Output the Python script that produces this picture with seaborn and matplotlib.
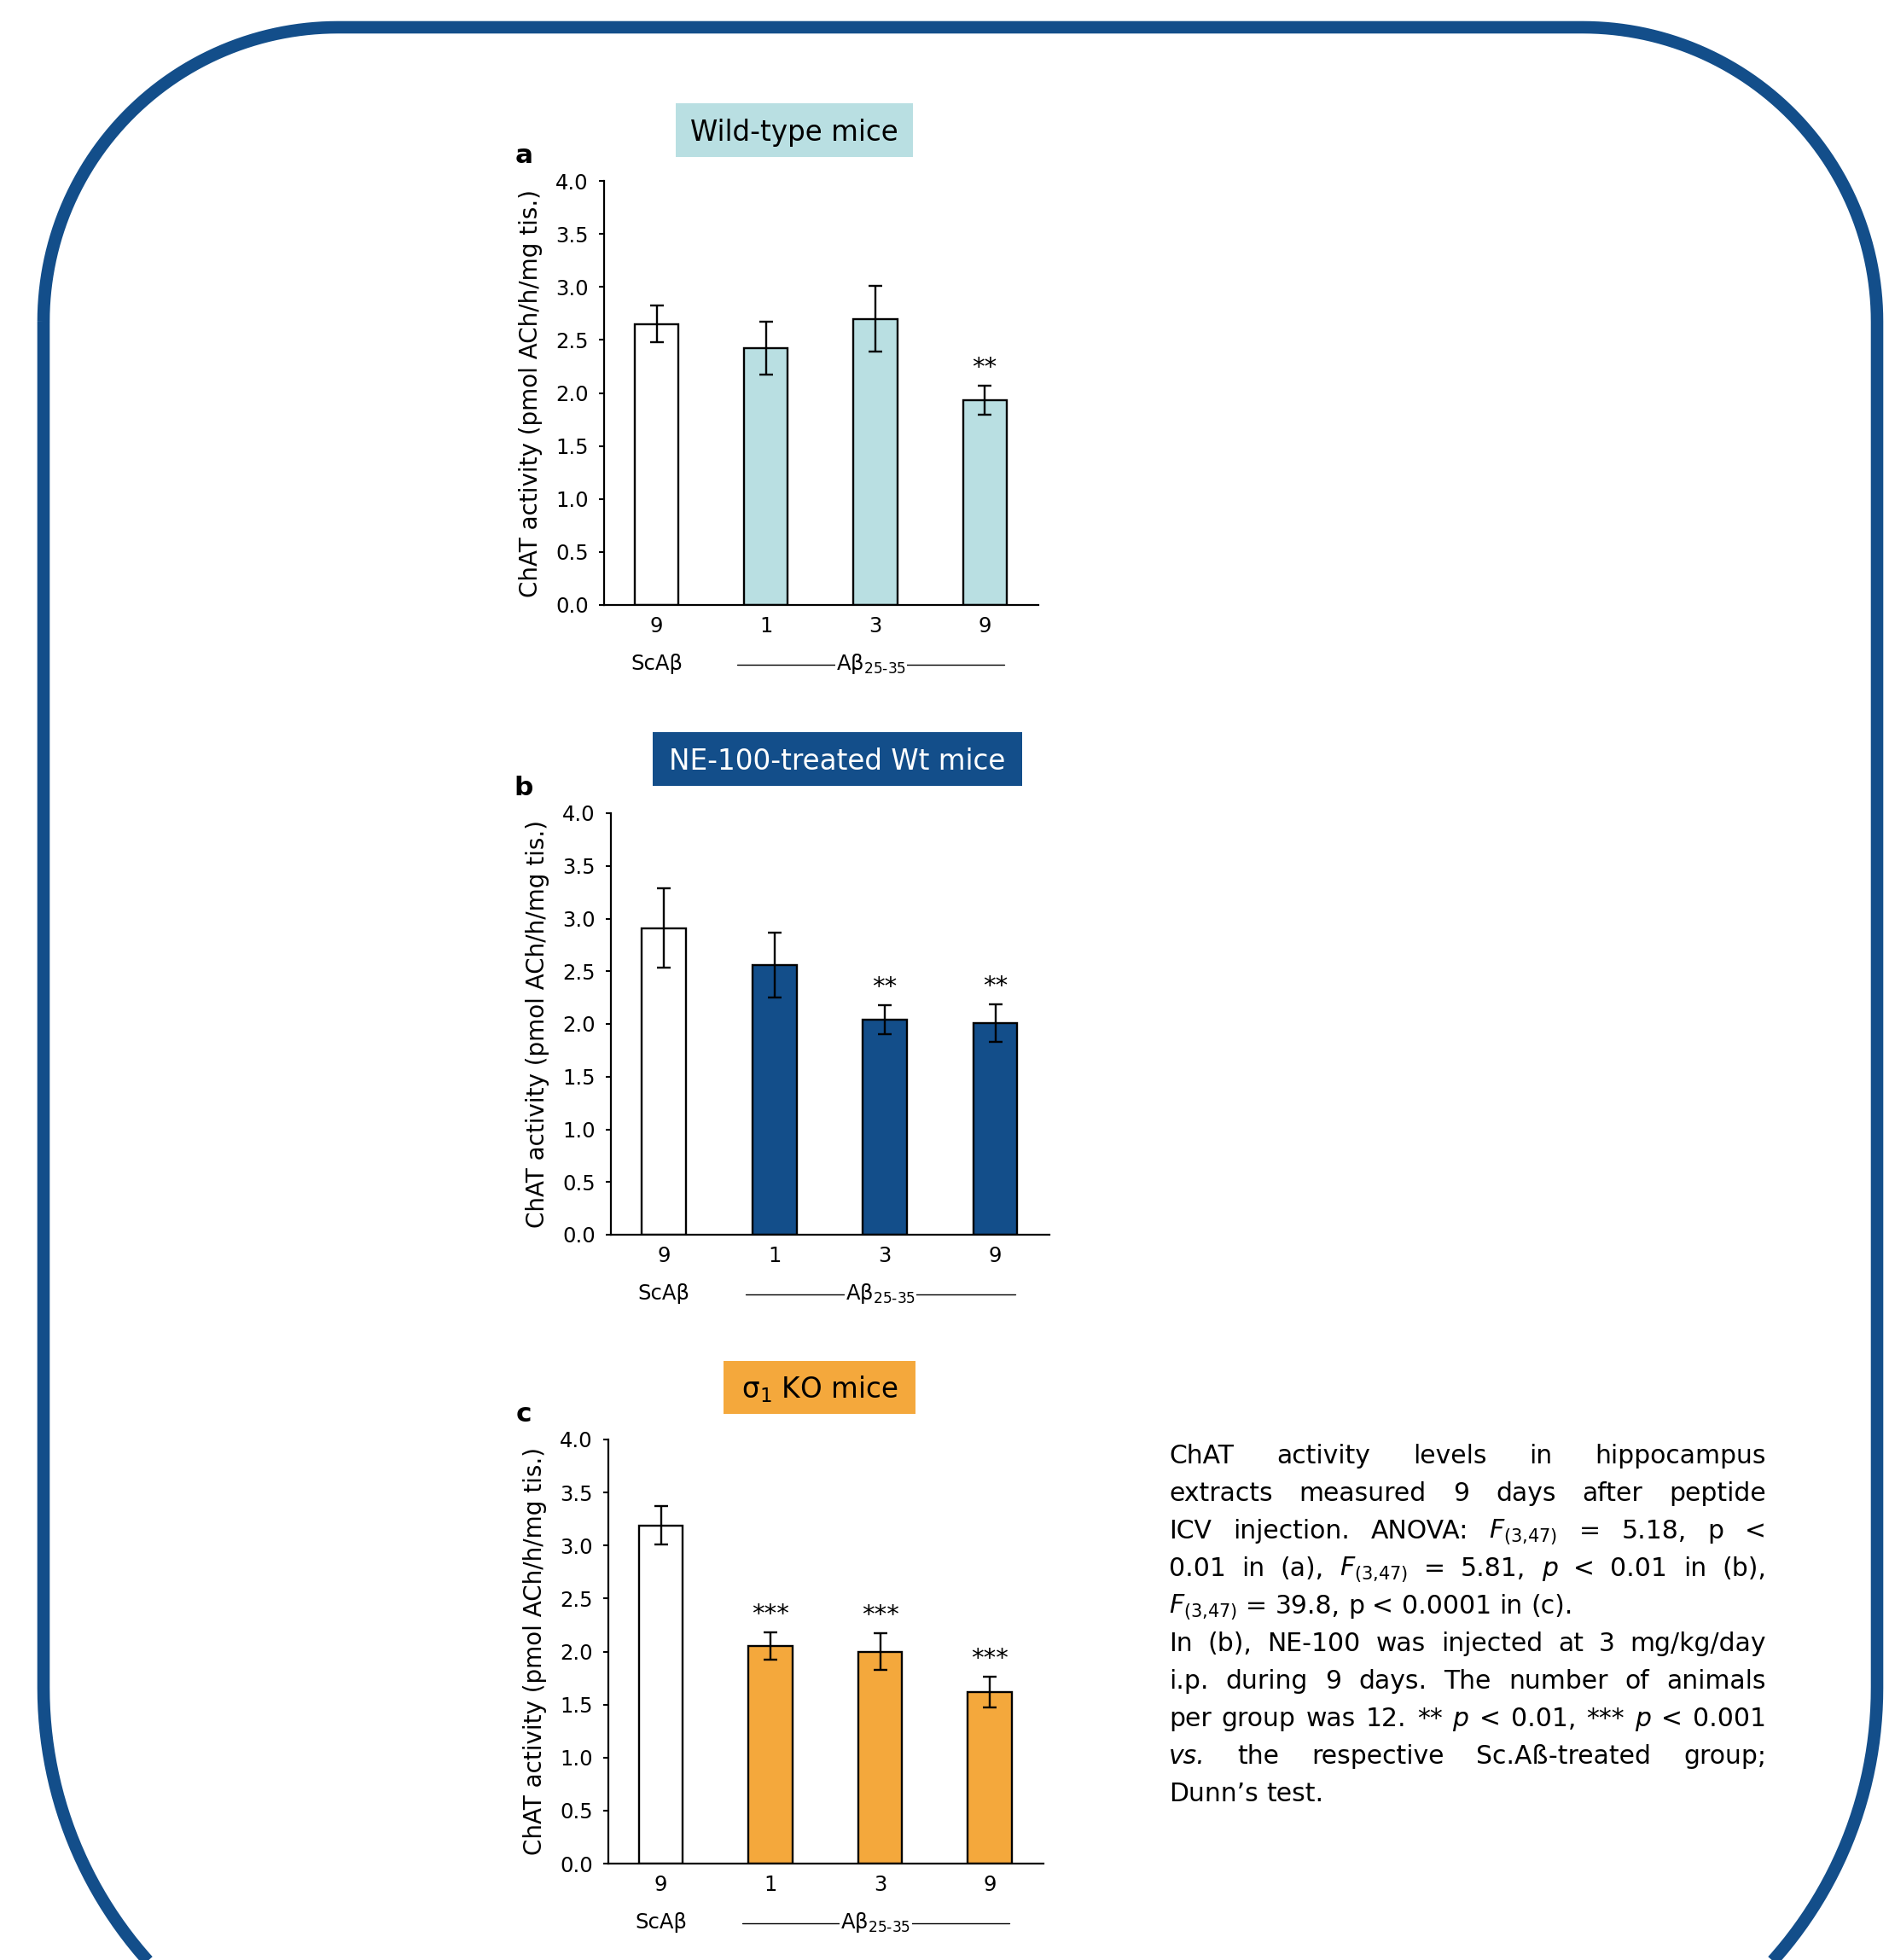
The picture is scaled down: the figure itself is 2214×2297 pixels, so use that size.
import numpy as np
import pandas as pd
import seaborn as sns
import matplotlib
matplotlib.use("Agg")
import matplotlib.pyplot as plt
from matplotlib.patches import Polygon, Rectangle

# --- data ---------------------------------------------------------------
days = ["9", "1", "3", "9"]
groups = ["ScAb 9", "Ab 1", "Ab 3", "Ab 9"]

wt_mean = [2.65, 2.42, 2.70, 1.93]
wt_sem = [0.175, 0.25, 0.31, 0.135]
wt_sig = ["", "", "", "**"]

ne_mean = [2.91, 2.56, 2.04, 2.01]
ne_sem = [0.375, 0.305, 0.135, 0.18]
ne_sig = ["", "", "**", "**"]

ko_mean = [3.19, 2.05, 2.00, 1.62]
ko_sem = [0.18, 0.13, 0.175, 0.145]
ko_sig = ["", "***", "***", "***"]

caption_lines = [
    "ChAT activity levels in hippocampus",
    "extracts measured 9 days after peptide",
    "ICV injection. ANOVA: {F} = 5.18, p <",
    "0.01 in (a), {F} = 5.81, /p < 0.01 in (b),",
    "{F} = 39.8, p < 0.0001 in (c).",
    "In (b), NE-100 was injected at 3 mg/kg/day",
    "i.p. during 9 days. The number of animals",
    "per group was 12. ** /p < 0.01, *** /p < 0.001",
    "/vs. the respective Sc.Aß-treated group;",
    "Dunn’s test.",
]
justify = [True, True, True, True, False, True, True, True, True, False]

sns.set_style("ticks")
plt.rcParams["font.family"] = ["DejaVu Sans"]
plt.rcParams["mathtext.fontset"] = "dejavusans"
for k in ["text.color", "axes.labelcolor", "xtick.color", "ytick.color",
          "axes.edgecolor"]:
    plt.rcParams[k] = "black"

W, H, DPI = 2214, 2297, 100
fig = plt.figure(figsize=(W / DPI, H / DPI), dpi=DPI, facecolor="white")


def frac(x, y):
    return x / W, 1 - y / H


# rounded frame (pixel coords from the top, converted to inches)
L, R, T, B = 51, 2200, 32, 2458
r_top, r_bot = 345, 480
corners = [((L + r_top, T + r_top), r_top, 180, 270),
           ((R - r_top, T + r_top), r_top, 270, 360),
           ((R - r_bot, B - r_bot), r_bot, 0, 90),
           ((L + r_bot, B - r_bot), r_bot, 90, 180)]
pts = []
for (cx, cy), r, a0, a1 in corners:
    ang = np.radians(np.linspace(a0, a1, 60))
    pts += [((cx + r * np.cos(a)) / DPI, (H - (cy + r * np.sin(a))) / DPI) for a in ang]
fig.patches.append(Polygon(pts, closed=True, transform=fig.dpi_scale_trans,
                           facecolor="none", edgecolor="#134e8a", linewidth=10.5,
                           joinstyle="round"))

panels = [
    dict(key="a", title="Wild-type mice", mean=wt_mean, sem=wt_sem, sig=wt_sig,
         color="#b9dfe2", tcolor="black", ax=(708, 212, 1217, 709),
         banner=(792, 121, 1070, 184)),
    dict(key="b", title="NE-100-treated Wt mice", mean=ne_mean, sem=ne_sem,
         sig=ne_sig, color="#134e8a", tcolor="white", ax=(716, 953, 1230, 1447),
         banner=(765, 858, 1198, 921)),
    dict(key="c", title="σ$_\\mathregular{1}$ KO mice", mean=ko_mean, sem=ko_sem,
         sig=ko_sig, color="#f4a83c", tcolor="black", ax=(713, 1687, 1223, 2184),
         banner=(848, 1595, 1073, 1657)),
]

for p in panels:
    x0, y0, x1, y1 = p["ax"]
    ax = fig.add_axes([x0 / W, 1 - y1 / H, (x1 - x0) / W, (y1 - y0) / H])
    df = pd.DataFrame({"group": groups, "mean": p["mean"]})
    sns.barplot(data=df, x="group", y="mean", hue="group",
                palette=["white"] + [p["color"]] * 3, width=0.4, saturation=1,
                edgecolor="black", linewidth=1.7, errorbar=None,
                legend=False, ax=ax)
    ax.errorbar(np.arange(len(groups)), p["mean"], yerr=p["sem"], fmt="none",
                ecolor="black", elinewidth=1.7, capsize=6, capthick=1.7, zorder=3)
    for i, (m, s, t) in enumerate(zip(p["mean"], p["sem"], p["sig"])):
        if t:
            ax.annotate(t, xy=(i, m + s), xytext=(0, 13), textcoords="offset pixels",
                        ha="center", va="baseline", fontsize=21)

    ax.set_xlim(-0.48, 3.49)
    ax.set_ylim(0, 4)
    ax.set_yticks(np.arange(0, 4.01, 0.5))
    ax.yaxis.set_major_formatter("{x:.1f}")
    ax.set_xticks(range(len(days)))
    ax.set_xticklabels(days)
    ax.tick_params(axis="x", length=0, pad=9.5, labelsize=17.5)
    ax.tick_params(axis="y", length=4.5, width=1.5, pad=8.5, labelsize=17.5)
    sns.despine(ax=ax)
    for side in ["left", "bottom"]:
        ax.spines[side].set_linewidth(1.6)
    ax.set_xlabel("")
    ax.set_ylabel("ChAT activity (pmol ACh/h/mg tis.)", fontsize=20, labelpad=11)

    # group labels under the axis
    tr = ax.get_xaxis_transform()
    ax.annotate("ScAβ", xy=(0, 0), xycoords=tr, xytext=(0, -76),
                textcoords="offset pixels", ha="center", va="baseline", fontsize=17.5)
    ax.plot([0.74, 3.18], [-70 / (y1 - y0)] * 2, transform=tr, color="black",
            lw=1.0, clip_on=False)
    ax.annotate("Aβ$_{\\mathregular{25‐35}}$", xy=(1.96, 0), xycoords=tr,
                xytext=(0, -76), textcoords="offset pixels", ha="center",
                va="baseline", fontsize=17.5,
                bbox=dict(boxstyle="square,pad=0.05", fc="white", ec="none"))

    # coloured banner and panel letter
    bx0, by0, bx1, by1 = p["banner"]
    fig.patches.append(Rectangle(frac(bx0, by1), (bx1 - bx0) / W, (by1 - by0) / H,
                                 transform=fig.transFigure, facecolor=p["color"],
                                 edgecolor="none"))
    fig.text(*frac((bx0 + bx1) / 2, (by0 + by1) / 2 + 12), p["title"],
             ha="center", va="baseline", fontsize=23.5, color=p["tcolor"])
    fig.text(*frac(614, y0 - 21), p["key"], ha="center", va="baseline",
             fontsize=22.5, fontweight="bold")

# justified caption
renderer = fig.canvas.get_renderer()
cap_left, cap_right, base0, step = 1370, 2070, 1715, 44
cap_size = 21.5
space = 0.318 * cap_size * DPI / 72
for li, line in enumerate(caption_lines):
    words = []
    for tok in line.split(" "):
        style = "normal"
        if tok == "{F}":
            tok = "$F_{\\mathregular{(3{,}47)}}$"
        elif tok.startswith("/"):
            tok = tok[1:]
            style = "italic"
        t = fig.text(0, 0, tok, fontsize=cap_size, fontstyle=style,
                     ha="left", va="baseline")
        words.append((t, t.get_window_extent(renderer).width))
    total = sum(w for _, w in words)
    gap = (cap_right - cap_left - total) / (len(words) - 1) if justify[li] else space
    x = cap_left
    y = base0 + li * step
    for t, w in words:
        t.set_position(frac(x, y))
        x += w + gap

fig.savefig("out.png", dpi=DPI, facecolor="white")
